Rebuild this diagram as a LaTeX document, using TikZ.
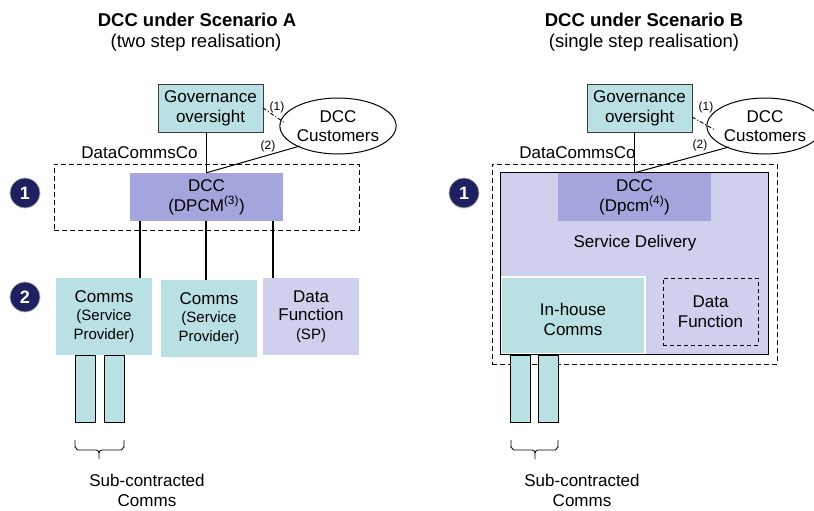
\documentclass[tikz,border=0pt]{standalone}
\usepackage{fontspec}
\setmainfont{Liberation Sans}
\usetikzlibrary{shapes.geometric,calc}
\definecolor{tealbox}{RGB}{185,224,226}
\definecolor{lavdark}{RGB}{165,165,221}
\definecolor{lavlight}{RGB}{207,207,238}
\definecolor{navy}{RGB}{31,32,96}
\definecolor{govline}{RGB}{60,60,60}
\newcommand{\sml}[1]{{\fontsize{15}{18.5}\selectfont #1}}
\begin{document}
\begin{tikzpicture}[x=1pt,y=-1pt,
  font=\fontsize{17}{20}\selectfont,
  box/.style={rectangle, inner sep=0pt, align=center},
  govbox/.style={box, fill=tealbox, draw=govline, line width=1pt, minimum width=105pt, minimum height=47pt},
  custell/.style={ellipse, draw=black, line width=1pt, inner sep=0pt, align=center, font=\fontsize{17}{18.5}\selectfont},
  dccbox/.style={box, fill=lavdark, minimum width=153pt, minimum height=48pt},
  commsbox/.style={box, fill=tealbox, minimum width=96pt, minimum height=77pt, font=\fontsize{17}{18.5}\selectfont},
  datbox/.style={box, fill=lavlight, minimum width=96pt, minimum height=77pt, font=\fontsize{17}{18.5}\selectfont},
  barbox/.style={box, fill=tealbox, draw=black, line width=0.8pt, minimum width=20pt, minimum height=67pt},
  outerdash/.style={box, draw=black, line width=0.9pt, dash pattern=on 5pt off 3pt},
  numcirc/.style={circle, fill=navy, draw=gray!50, line width=0.8pt, minimum size=30pt, inner sep=0pt, text=white, font=\fontsize{18}{18}\selectfont\bfseries},
  thickcon/.style={line width=1.8pt},
  thincon/.style={line width=1pt},
  dashdotcon/.style={line width=0.9pt, dash pattern=on 4pt off 2pt on 1pt off 2pt},
  small15/.style={font=\fontsize{12}{12}\selectfont},
  titlefont/.style={font=\fontsize{18.5}{22}\selectfont\bfseries},
  subtitlefont/.style={font=\fontsize{18.5}{22}\selectfont},
  brace/.style={line width=0.8pt}
]
\useasboundingbox (0,0) rectangle (814,511);

% ================= Scenario A =================
\node[titlefont] (titleA) at (197,20) {DCC under Scenario A};
\node[subtitlefont] (subA) at (196,43) {(two step realisation)};

\node[outerdash, minimum width=305pt, minimum height=66pt] (dccoA) at (206.5,197) {};
\node[dccbox] (dccA) at (206.5,197) {DCC\\(DPCM\textsuperscript{(3)})};
\node[govbox] (govA) at (210.5,108.5) {Governance\\oversight};
\node[custell, minimum width=106pt, minimum height=56pt] (custA) at (338,126) {DCC\\Customers};
\node (dcclabA) at (139.5,153) {DataCommsCo};

\node[numcirc] (n1A) at (25,193) {1};
\node[numcirc] (n2A) at (25,297) {2};

\node[commsbox] (comms1A) at (104,316.5) {Comms\\\sml{(Service}\\\sml{Provider)}};
\node[commsbox] (comms2A) at (209,318.5) {Comms\\\sml{(Service}\\\sml{Provider)}};
\node[datbox] (dataA) at (311,316.5) {Data\\Function\\\sml{(SP)}};

\node[barbox] (barA1) at (85,388.5) {};
\node[barbox] (barA2) at (114,388.5) {};
\node (subcA) at (147,490) [align=center] {Sub-contracted\\Comms};

% connectors A
\draw[thickcon] (dccA.north) -- (dccA.north |- govA.south);
\coordinate (custA2) at (300,146);
\draw[thincon] (custA2) -- (dccA.north);
\node[small15] (lab2A) at (268,146) {(2)};
\coordinate (govA1) at (263,108);
\coordinate (custA1) at (285,123);
\draw[dashdotcon] (govA1) -- (custA1);
\node[small15] (lab1A) at (277,107) {(1)};

\coordinate (xA1) at (140,0);
\coordinate (xA2) at (206,0);
\coordinate (xA3) at (273,0);
\draw[thickcon] (dccA.south -| xA1) -- (comms1A.north -| xA1);
\draw[thickcon] (dccA.south -| xA2) -- (comms2A.north -| xA2);
\draw[thickcon] (dccA.south -| xA3) -- (dataA.north -| xA3);

% brace A
\draw[brace] (75,440) -- (75,447) to[out=90,in=180] (78,450) -- (96,450) to[out=0,in=90] (99,453) -- (99,459);
\draw[brace] (124,440) -- (124,447) to[out=90,in=0] (121,450) -- (102,450) to[out=180,in=90] (99,453);

% ================= Scenario B =================
\node[titlefont] (titleB) at (644,20) {DCC under Scenario B};
\node[subtitlefont] (subB) at (644,43) {(single step realisation)};

\node[outerdash, minimum width=285pt, minimum height=200pt] (dccoB) at (634.5,264) {};
\node[box, fill=lavlight, minimum width=267pt, minimum height=181pt] (sdB) at (634.5,263.5) {};
\node[box, fill=tealbox, draw=white, line width=2pt, minimum width=144pt, minimum height=77pt] (inhB) at (573,315.5) {};
\node (inhtxtB) at (573,319) [align=center] {In-house\\Comms};
\node[box, draw=black, line width=0.9pt, dash pattern=on 4pt off 3pt, minimum width=95pt, minimum height=67pt] (dataB) at (710.5,311.5) {Data\\Function};
\node[dccbox] (dccB) at (634.5,197) {DCC\\(Dpcm\textsuperscript{(4)})};
\draw[line width=1.2pt] (sdB.north west) rectangle (sdB.south east);
\node (sdtxtB) at (635,243) {Service Delivery};

\node[govbox] (govB) at (639.5,108.5) {Governance\\oversight};
\node[custell, minimum width=100pt, minimum height=56pt] (custB) at (765,126) {DCC\\Customers};
\node (dcclabB) at (577.5,153) {DataCommsCo};

\node[numcirc] (n1B) at (464,193) {1};

\node[barbox] (barB1) at (520.5,388.5) {};
\node[barbox] (barB2) at (548.5,388.5) {};
\node (subcB) at (582,490) [align=center] {Sub-contracted\\Comms};

% connectors B
\draw[thickcon] (dccB.north) -- (dccB.north |- govB.south);
\coordinate (custB2) at (729,147);
\draw[thincon] (custB2) -- (dccB.north);
\node[small15] (lab2B) at (700,145) {(2)};
\coordinate (govB1) at (692,117);
\coordinate (custB1) at (715,130);
\draw[dashdotcon] (govB1) -- (custB1);
\node[small15] (lab1B) at (706,107) {(1)};

% brace B
\draw[brace] (511,440) -- (511,447) to[out=90,in=180] (514,450) -- (532,450) to[out=0,in=90] (535,453) -- (535,459);
\draw[brace] (558,440) -- (558,447) to[out=90,in=0] (555,450) -- (538,450) to[out=180,in=90] (535,453);
\end{tikzpicture}
\end{document}
